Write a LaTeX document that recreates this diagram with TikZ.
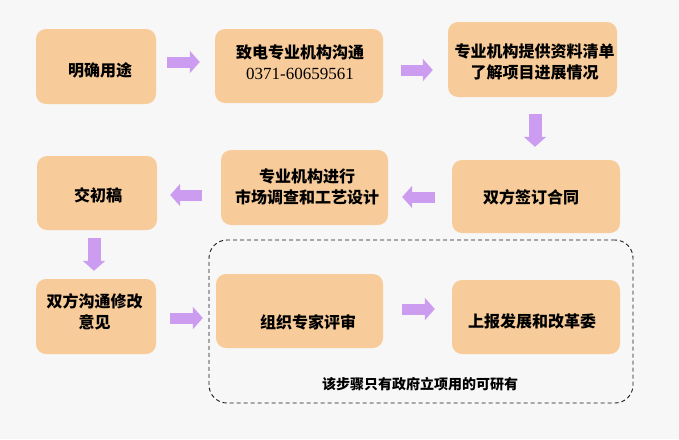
\documentclass[tikz,border=0pt]{standalone}
\usepackage{fontspec}
\setmainfont{Noto Sans CJK SC}
\newfontfamily\numfont{Liberation Serif}
\usetikzlibrary{arrows.meta}
\definecolor{boxfill}{HTML}{F8CC9A}
\definecolor{arrowcol}{HTML}{CC9CF0}
\definecolor{bgcol}{HTML}{F7F7F7}
\tikzset{
  stepbox/.style={rectangle, rounded corners=10pt, fill=boxfill, draw=none, inner sep=0pt},
  boxtext/.style={font=\bfseries\fontsize{16pt}{21pt}\selectfont, align=center, inner sep=0pt, text=black},
  fatarrow/.style={draw=arrowcol, line width=11pt, -{Triangle[length=10pt, width=22pt]}},
  fatdown/.style={draw=arrowcol, line width=13pt, -{Triangle[length=10pt, width=22pt]}},
  groupbox/.style={rectangle, rounded corners=18pt, draw=black!90, line width=0.9pt, dash pattern=on 4pt off 3pt, inner sep=0pt}
}
\begin{document}
\begin{tikzpicture}[x=1pt, y=-1pt]
\fill[bgcol] (0,0) rectangle (679,439);
\useasboundingbox (0,0) rectangle (679,439);

% boxes
\node[stepbox, minimum width=120pt, minimum height=75pt] (b1) at (96,66.5) {};
\node[stepbox, minimum width=168pt, minimum height=74pt] (b2) at (299,66) {};
\node[stepbox, minimum width=169pt, minimum height=75pt] (b3) at (532.5,59.5) {};
\node[stepbox, minimum width=168pt, minimum height=73pt] (b4) at (536,196.5) {};
\node[stepbox, minimum width=167pt, minimum height=75pt] (b5) at (304.5,187.5) {};
\node[stepbox, minimum width=120pt, minimum height=74pt] (b6) at (97,193) {};
\node[stepbox, minimum width=120pt, minimum height=75pt] (b7) at (96,316.5) {};
\node[groupbox, minimum width=424pt, minimum height=163pt] (grp) at (421,321.5) {};
\node[stepbox, minimum width=167pt, minimum height=74pt] (b8) at (299.5,311) {};
\node[stepbox, minimum width=168pt, minimum height=74pt] (b9) at (536,317) {};

% texts
\node[boxtext] (t1) at (100,70) {明确用途};
\node[boxtext] (t2) at (300,62.5) {致电专业机构沟通\\{\numfont\mdseries\fontsize{17pt}{21pt}\selectfont 0371-60659561}};
\node[boxtext] (t3) at (534.5,62) {专业机构提供资料清单\\了解项目进展情况};
\node[boxtext] (t4) at (531,197) {双方签订合同};
\node[boxtext] (t5) at (307,186.5) {专业机构进行\\市场调查和工艺设计};
\node[boxtext] (t6) at (98,195) {交初稿};
\node[boxtext] (t7) at (94.5,312) {双方沟通修改\\意见};
\node[boxtext] (t8) at (308,322) {组织专家评审};
\node[boxtext] (t9) at (532,321) {上报发展和改革委};
\node[font=\bfseries\fontsize{14pt}{16pt}\selectfont, inner sep=0pt] (note) at (420,384) {该步骤只有政府立项用的可研有};

% arrows
\draw[fatarrow, shorten <=11pt, shorten >=15pt] (b1.east |- 0,62) -- (b2.west |- 0,62);
\draw[fatarrow, shorten <=18pt, shorten >=15pt] (b2.east |- 0,70) -- (b3.west |- 0,70);
\draw[fatdown, shorten <=17pt, shorten >=13pt] (b3.south -| 535,0) -- (b4.north -| 535,0);
\draw[fatarrow, shorten <=17pt, shorten >=14pt] (b4.west |- 0,197) -- (b5.east |- 0,197);
\draw[fatarrow, shorten <=19pt, shorten >=13pt] (b5.west |- 0,195) -- (b6.east |- 0,195);
\draw[fatdown, shorten <=8pt, shorten >=8pt] (b6.south -| 94,0) -- (b7.north -| 94,0);
\draw[fatarrow, shorten <=14pt, shorten >=13pt] (b7.east |- 0,318) -- (b8.west |- 0,318);
\draw[fatarrow, shorten <=19pt, shorten >=17pt] (b8.east |- 0,309) -- (b9.west |- 0,309);
\end{tikzpicture}
\end{document}
